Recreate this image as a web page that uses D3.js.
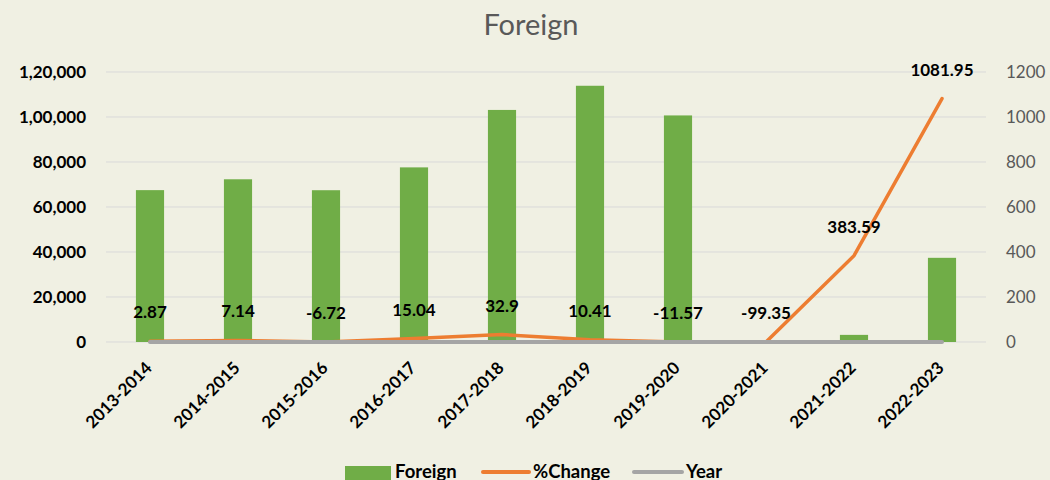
<!DOCTYPE html>
<html>
<head>
<meta charset="utf-8">
<script src="https://cdn.jsdelivr.net/npm/d3@7"></script>
<style>
  html, body { margin: 0; padding: 0; background: #f0f0e3; }
  #chart { width: 1050px; height: 480px; overflow: hidden; }
  text { font-family: Lato, "Open Sans", sans-serif; }
</style>
</head>
<body>
<div id="chart"></div>
<script>
const years = ['2013-2014', '2014-2015', '2015-2016', '2016-2017', '2017-2018',
  '2018-2019', '2019-2020', '2020-2021', '2021-2022', '2022-2023'];
const foreign = [67500, 72320, 67460, 77610, 103140, 113880, 100700, 655, 3165, 37410];
const pctChange = [2.87, 7.14, -6.72, 15.04, 32.9, 10.41, -11.57, -99.35, 383.59, 1081.95];
const yearSeries = [0, 0, 0, 0, 0, 0, 0, 0, 0, 0];
const leftTicks = [0, 20000, 40000, 60000, 80000, 100000, 120000];
const leftTickLabels = ['0', '20,000', '40,000', '60,000', '80,000', '1,00,000', '1,20,000'];
const rightTicks = [0, 200, 400, 600, 800, 1000, 1200];

const margin = { top: 72, right: 64, bottom: 138, left: 106 };
const W = 1050, H = 480;
const width = W - margin.left - margin.right;
const height = H - margin.top - margin.bottom;

const svg = d3.select('#chart').append('svg')
  .attr('width', W)
  .attr('height', H);

svg.append('rect').attr('width', W).attr('height', H).attr('fill', '#f0f0e3');

const x = d3.scaleBand().domain(years).range([0, width]).paddingInner(0.68).paddingOuter(0.34);
const y = d3.scaleLinear().domain([0, 120000]).range([height, 0]);
const y2 = d3.scaleLinear().domain([0, 1200]).range([height, 0]).clamp(true);

const g = svg.append('g').attr('transform', `translate(${margin.left}, ${margin.top})`);

// title
svg.append('text')
  .attr('x', 531).attr('y', 35)
  .attr('text-anchor', 'middle')
  .attr('fill', '#595959')
  .style('font-size', '29px')
  .text('Foreign');

// gridlines
g.selectAll('.grid')
  .data(leftTicks)
  .enter().append('line')
  .attr('x1', 0).attr('x2', width)
  .attr('y1', d => y(d)).attr('y2', d => y(d))
  .attr('stroke', '#d9d9d9').attr('stroke-width', 1);

// left axis
const yAxis = d3.axisLeft(y).tickValues(leftTicks)
  .tickFormat((d, i) => leftTickLabels[i]).tickSize(0).tickPadding(20);
g.append('g').call(yAxis)
  .call(a => a.select('.domain').remove())
  .selectAll('text')
  .style('font-size', '17px').style('font-weight', 'bold')
  .attr('fill', '#000').attr('dy', '0.35em');

// right axis
const yAxis2 = d3.axisRight(y2).tickValues(rightTicks)
  .tickFormat(d3.format('d')).tickSize(0).tickPadding(20);
g.append('g').attr('transform', `translate(${width}, 0)`).call(yAxis2)
  .call(a => a.select('.domain').remove())
  .selectAll('text')
  .style('font-size', '17px')
  .attr('fill', '#595959').attr('dy', '0.35em');

// bars
g.selectAll('.bar')
  .data(foreign)
  .enter().append('rect')
  .attr('x', (d, i) => x(years[i]))
  .attr('y', d => y(d))
  .attr('width', x.bandwidth())
  .attr('height', d => height - y(d))
  .attr('fill', '#70ad47');

const cx = i => x(years[i]) + x.bandwidth() / 2;

// %change line
g.append('path')
  .datum(pctChange)
  .attr('d', d3.line().x((d, i) => cx(i)).y(d => y2(d)))
  .attr('fill', 'none')
  .attr('stroke', '#ed7d31')
  .attr('stroke-width', 3.5)
  .attr('stroke-linecap', 'round');

// year line
g.append('path')
  .datum(yearSeries)
  .attr('d', d3.line().x((d, i) => cx(i)).y(d => y2(d)))
  .attr('fill', 'none')
  .attr('stroke', '#a5a5a5')
  .attr('stroke-width', 4)
  .attr('stroke-linecap', 'round');

// labels
g.selectAll('.lbl')
  .data(pctChange)
  .enter().append('text')
  .attr('x', (d, i) => cx(i))
  .attr('y', d => y2(d) - 29)
  .attr('dy', '0.35em')
  .attr('text-anchor', 'middle')
  .style('font-size', '17px').style('font-weight', 'bold')
  .attr('fill', '#000')
  .text(d => d);

// x labels
g.selectAll('.xl')
  .data(years)
  .enter().append('text')
  .attr('transform', (d, i) => `translate(${cx(i) + 3}, ${height + 27}) rotate(-45)`)
  .attr('text-anchor', 'end')
  .style('font-size', '17px').style('font-weight', 'bold')
  .attr('fill', '#000')
  .text(d => d);

// legend
const lg = svg.append('g').attr('transform', 'translate(0, 472)');
lg.append('rect').attr('x', 345).attr('y', -6).attr('width', 46).attr('height', 14).attr('fill', '#70ad47');
lg.append('text').attr('x', 395).attr('y', 5.5).text('Foreign');
lg.append('line').attr('x1', 483).attr('x2', 529).attr('y1', 0).attr('y2', 0)
  .attr('stroke', '#ed7d31').attr('stroke-width', 4).attr('stroke-linecap', 'round');
lg.append('text').attr('x', 533).attr('y', 5.5).text('%Change');
lg.append('line').attr('x1', 634).attr('x2', 682).attr('y1', 0).attr('y2', 0)
  .attr('stroke', '#a5a5a5').attr('stroke-width', 4).attr('stroke-linecap', 'round');
lg.append('text').attr('x', 686).attr('y', 5.5).text('Year');
lg.selectAll('text').style('font-size', '18.5px').style('font-weight', 'bold').attr('fill', '#000');
</script>
</body>
</html>
